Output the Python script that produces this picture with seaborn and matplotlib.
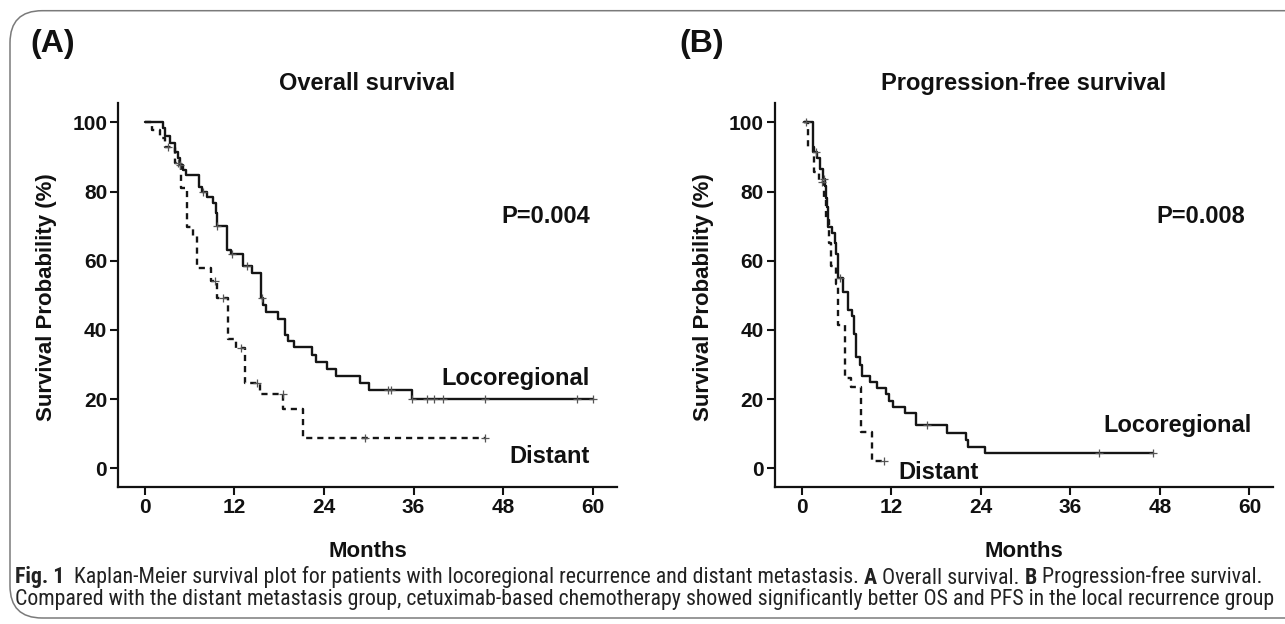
import numpy as np
import pandas as pd
import matplotlib
matplotlib.use('Agg')
import matplotlib.pyplot as plt
import seaborn as sns
from matplotlib import font_manager
from matplotlib.patches import FancyBboxPatch


# (A) overall survival, step points (months, %)
os_loco_t = [0, 2.37, 2.68, 3.35, 4.02, 4.47, 4.69, 5.05, 5.5, 7.28, 7.6, 8.36, 9.16, 9.52, 9.7,
             11.04, 11.48, 13.18, 14.3, 15.5, 15.86, 16.22, 17.87, 18.77, 19.21, 20.02, 22.34,
             22.88, 24.35, 25.56, 28.82, 30.03, 35.79, 60.1]
os_loco_s = [100, 98.3, 96.0, 94.1, 91.5, 89.6, 87.7, 86.3, 84.8, 81.4, 80.0, 78.3, 76.6, 73.7, 70.0,
             63.1, 61.9, 58.5, 56.6, 49.1, 47.2, 45.3, 43.1, 38.5, 36.9, 35.0, 32.8,
             30.8, 28.6, 26.7, 24.6, 22.6, 20.0, 20.0]
os_loco_cens = [4.69, 7.73, 9.7, 11.62, 13.63, 15.7, 32.6, 32.98, 35.8, 37.76, 38.74, 39.9, 45.58, 57.95, 60.1]

os_dist_t = [0, 0.89, 2.01, 2.68, 4.02, 4.78, 5.68, 6.48, 7.02, 8.8, 9.7, 11.17, 12.2, 13.4,
             15.42, 18.54, 21.22, 45.58]
os_dist_s = [100, 97.8, 95.4, 93.0, 88.2, 81.0, 69.8, 67.1, 57.8, 54.2, 49.1, 37.3, 34.7, 24.8,
             21.5, 17.1, 8.7, 8.7]
os_dist_cens = [3.13, 4.47, 9.38, 10.41, 12.87, 14.97, 18.45, 29.5, 45.58]

# (B) progression-free survival
pfs_loco_t = [0.31, 1.52, 2.1, 2.42, 2.86, 3.13, 3.31, 3.44, 3.58, 4.11, 4.47, 4.65, 4.92, 5.55,
              6.26, 6.71, 7.02, 7.33, 7.78, 8.14, 9.12, 10.15, 11.27, 11.72, 12.25, 13.86, 15.38,
              19.54, 22.0, 22.23, 24.55, 47.05]
pfs_loco_s = [100, 91.5, 89.8, 86.4, 83.5, 81.5, 78.2, 75.6, 69.8, 67.9, 65.0, 62.0, 55.0, 50.9,
              45.8, 43.9, 38.9, 32.1, 30.0, 26.7, 25.0, 23.1, 21.4, 19.5, 17.8, 16.1, 12.5,
              10.3, 8.1, 6.2, 4.3, 4.3]
pfs_loco_cens = [1.88, 3.0, 5.1, 16.77, 39.9, 47.05]

pfs_dist_t = [0.31, 0.89, 1.65, 2.33, 3.0, 3.31, 3.67, 3.89, 4.56, 4.92, 5.81, 6.57, 7.9, 9.39, 11.05]
pfs_dist_s = [100, 92.8, 85.7, 82.8, 78.5, 71.8, 65.0, 58.4, 53.3, 41.5, 26.2, 23.4, 10.6, 2.2, 2.2]
pfs_dist_cens = [0.63, 2.77, 11.05]

month_ticks = [0, 12, 24, 36, 48, 60]
surv_ticks = [0, 20, 40, 60, 80, 100]
p_values = ['P=0.004', 'P=0.008']
titles = ['Overall survival', 'Progression-free survival']

W, H = 1285, 624


def fx(px):
    return px / W


def fy(py):
    return 1 - py / H


def step_at(t, s, x):
    idx = np.searchsorted(t, x, side='right') - 1
    return np.asarray(s)[idx]


sns.set_style('ticks')
plt.rcParams['font.family'] = ['Liberation Sans', 'DejaVu Sans']
plt.rcParams['font.weight'] = 'bold'

fig = plt.figure(figsize=(W / 100, H / 100), dpi=100)

# rounded frame around the whole figure
frame = FancyBboxPatch((fx(10), fy(618)), fx(1400), (618 - 10.7) / H,
                       boxstyle='round,pad=0,rounding_size=0.025', transform=fig.transFigure,
                       fill=False, edgecolor='#7a7a7a', linewidth=1.1, mutation_aspect=W / H)
fig.patches.append(frame)


def draw_panel(ax, loco_t, loco_s, loco_c, dist_t, dist_s, dist_c):
    df_l = pd.DataFrame({'Months': loco_t, 'Survival': loco_s})
    df_d = pd.DataFrame({'Months': dist_t, 'Survival': dist_s})
    sns.lineplot(data=df_l, x='Months', y='Survival', drawstyle='steps-post', estimator=None,
                 sort=False, color='#151515', linewidth=1.7, ax=ax)
    sns.lineplot(data=df_d, x='Months', y='Survival', drawstyle='steps-post', estimator=None,
                 sort=False, color='#151515', linewidth=1.7, linestyle=(0, (2.6, 2.1)), ax=ax)
    ax.plot(loco_c, step_at(loco_t, loco_s, loco_c), '+', color='#555555', ms=6, mew=0.9, zorder=4)
    ax.plot(dist_c, step_at(dist_t, dist_s, dist_c), '+', color='#555555', ms=6, mew=0.9, zorder=4)

    ax.set_xlim(-3.57, 63.2)
    ax.set_ylim(-5.3, 105.5)
    ax.set_xticks(month_ticks)
    ax.set_yticks(surv_ticks)
    sns.despine(ax=ax)
    for sp in ['left', 'bottom']:
        ax.spines[sp].set_linewidth(1.6)
        ax.spines[sp].set_color('#111111')
    ax.tick_params(axis='both', length=5.5, width=1.5, pad=2.5, labelsize=15, colors='#111111')
    for lab in ax.get_xticklabels() + ax.get_yticklabels():
        lab.set_fontweight('bold')
    ax.set_xlabel('Months', fontsize=16, fontweight='bold', color='#111111', va='top')
    ax.set_ylabel('Survival Probability (%)', fontsize=16, fontweight='bold', color='#111111')
    ax.xaxis.set_label_coords(0.5, (486.7 - 541.0) / 383.4)
    ax.yaxis.set_label_coords((57.0 - 118.3) / 498.3, 0.4935)


ax_a = fig.add_axes([fx(118.3), fy(486.7), 498.3 / W, 383.4 / H])
draw_panel(ax_a, os_loco_t, os_loco_s, os_loco_cens, os_dist_t, os_dist_s, os_dist_cens)
ax_b = fig.add_axes([fx(775.0), fy(486.7), 498.3 / W, 383.4 / H])
draw_panel(ax_b, pfs_loco_t, pfs_loco_s, pfs_loco_cens, pfs_dist_t, pfs_dist_s, pfs_dist_cens)

txt = dict(fontweight='bold', color='#111111')
fig.text(fx(30), fy(44), '(A)', fontsize=23, va='center', ha='left', **txt)
fig.text(fx(679), fy(44), '(B)', fontsize=23, va='center', ha='left', **txt)
fig.text(fx(367), fy(83.5), titles[0], fontsize=17, va='center', ha='center', **txt)
fig.text(fx(1024), fy(83.5), titles[1], fontsize=17, va='center', ha='center', **txt)

fig.text(fx(590), fy(222.7), p_values[0], fontsize=17, va='baseline', ha='right', **txt)
fig.text(fx(590), fy(385), 'Locoregional', fontsize=17, va='baseline', ha='right', **txt)
fig.text(fx(590), fy(462.7), 'Distant', fontsize=17, va='baseline', ha='right', **txt)
fig.text(fx(1245), fy(222.7), p_values[1], fontsize=17, va='baseline', ha='right', **txt)
fig.text(fx(1251.7), fy(432), 'Locoregional', fontsize=17, va='baseline', ha='right', **txt)
fig.text(fx(898.3), fy(479.3), 'Distant', fontsize=17, va='baseline', ha='left', **txt)


# caption: prefer a condensed sans face if one is installed
def pick_caption_font(bold):
    wanted = ['Liberation Sans Narrow', 'Roboto Condensed', 'Open Sans Condensed',
              'Noto Sans', 'DejaVu Sans', 'Open Sans', 'Roboto']
    best = None
    for name in wanted:
        for f in font_manager.fontManager.ttflist:
            if f.name != name or f.style != 'normal':
                continue
            w = f.weight if isinstance(f.weight, int) else font_manager.weight_dict.get(f.weight, 400)
            if bold != (w >= 600) or (not bold and w < 350):
                continue
            st = str(f.stretch)
            if name.endswith('Narrow') or name.endswith('Condensed') or 'condensed' in st:
                return font_manager.FontProperties(fname=f.fname)
    return None


cap_reg = pick_caption_font(False)
cap_bold = pick_caption_font(True)
if cap_reg is None or cap_bold is None:
    cap_reg = font_manager.FontProperties(family='DejaVu Sans', weight='normal')
    cap_bold = font_manager.FontProperties(family='DejaVu Sans', weight='bold')

line1 = [('Fig. 1', True), ('Kaplan-Meier survival plot for patients with locoregional recurrence and distant metastasis.', False),
         ('A', True), ('Overall survival.', False), ('B', True), ('Progression-free survival.', False)]
gaps1 = [2, 1, 1, 1, 1]
line2 = 'Compared with the distant metastasis group, cetuximab-based chemotherapy showed significantly better OS and PFS in the local recurrence group'

fig.canvas.draw()
renderer = fig.canvas.get_renderer()


def props(bold, size):
    p = (cap_bold if bold else cap_reg).copy()
    p.set_size(size)
    return p


probe = fig.text(0, 0, line2, fontproperties=props(False, 14))
w2 = probe.get_window_extent(renderer).width
probe.remove()
cap_size = 14 * (1268 / w2)

a = fig.text(0, 0, 'a a', fontproperties=props(False, cap_size))
b = fig.text(0, 0, 'aa', fontproperties=props(False, cap_size))
sp = a.get_window_extent(renderer).width - b.get_window_extent(renderer).width
a.remove()
b.remove()

x = 15
for i, (s, bold) in enumerate(line1):
    t = fig.text(fx(x), fy(583.5), s, fontproperties=props(bold, cap_size),
                 va='baseline', ha='left', color='#222222')
    x += t.get_window_extent(renderer).width
    if i < len(gaps1):
        x += sp * gaps1[i]
fig.text(fx(15), fy(605), line2, fontproperties=props(False, cap_size),
         va='baseline', ha='left', color='#222222')

fig.savefig('out.png', dpi=100)
